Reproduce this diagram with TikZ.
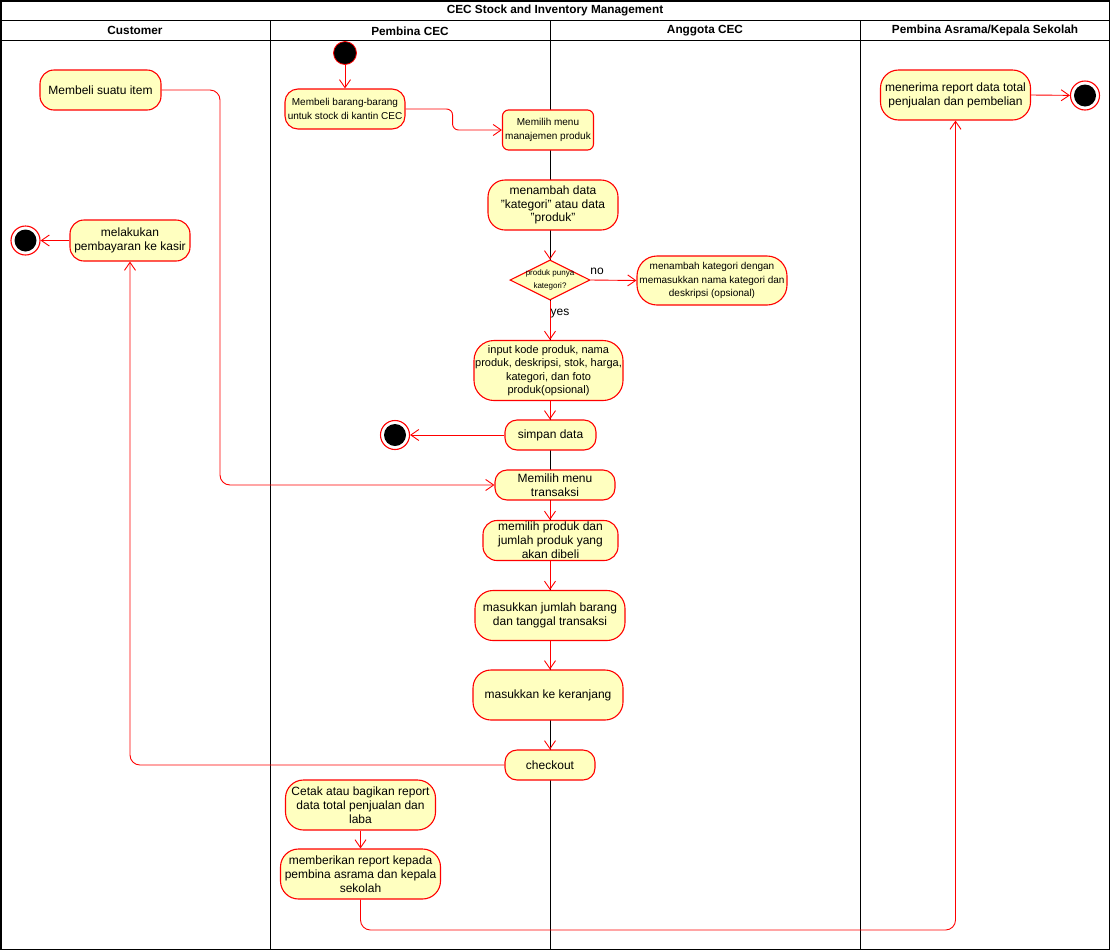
\documentclass[tikz,border=0pt]{standalone}
\usepackage{fontspec}
\setmainfont{Liberation Sans}
\usetikzlibrary{arrows.meta,shapes.geometric,calc}
\definecolor{boxfill}{RGB}{255,255,192}
\definecolor{umlred}{RGB}{255,0,0}
\begin{document}
\begin{tikzpicture}[x=1pt,y=-1pt,
  act/.style={draw=umlred, fill=boxfill, line width=1.1pt, rounded corners=14pt,
    inner sep=0pt, align=center, text=black, font=\fontsize{12}{13.8}\selectfont},
  smalltxt/.style={font=\fontsize{10}{14}\selectfont},
  midtxt/.style={font=\fontsize{11}{13.4}\selectfont},
  conn/.style={draw=umlred, line width=0.9pt, -{Straight Barb[length=8pt,width=11pt,line width=0.9pt]}},
  blackconn/.style={draw=black, line width=0.9pt, -{Straight Barb[length=8pt,width=11pt,line width=0.9pt,color=umlred]}},
  startstate/.style={circle, draw=umlred, fill=black, line width=0.8pt, minimum size=23pt, inner sep=0pt},
  endstate/.style={circle, draw=umlred, fill=white, line width=1.1pt, minimum size=29pt, inner sep=0pt},
  lanehead/.style={font=\bfseries\fontsize{11.8}{12}\selectfont},
  guard/.style={font=\fontsize{12}{13}\selectfont, inner sep=0pt}
]
\useasboundingbox (0,0) rectangle (1111,951);

% frame and lanes
\draw[line width=1.2pt] (1,1) rectangle (1109.5,949.5);
\draw[line width=1pt] (1,20.5) -- (1109.5,20.5);
\draw[line width=1pt] (1,40.5) -- (1109.5,40.5);
\draw[line width=1pt] (270.5,20.5) -- (270.5,949.5);
\draw[line width=1pt] (550.5,20.5) -- (550.5,949.5);
\draw[line width=1pt] (860.5,20.5) -- (860.5,949.5);

\node[lanehead] (title) at (555,10.8) {CEC Stock and Inventory Management};
\node[lanehead] (h1) at (135,30.8) {Customer};
\node[lanehead] (h2) at (410,30.8) {Pembina CEC};
\node[lanehead] (h3) at (705,30.8) {Anggota CEC};
\node[lanehead] (h4) at (985,30.8) {Pembina Asrama/Kepala Sekolah};

% Customer lane
\node[act, minimum width=121pt, minimum height=40pt] (buy) at (100.5,90) {Membeli suatu item};
\node[act, minimum width=120pt, minimum height=41pt] (pay) at (130,240.5) {melakukan\\pembayaran ke kasir};
\node[endstate] (endC) at (25.5,240.5) {};
\fill[black] (endC.center) circle (11pt);

% Pembina CEC lane
\node[startstate] (start) at (345,53) {};
\node[act, smalltxt, rounded corners=13pt, minimum width=120pt, minimum height=40pt] (stock) at (345,109) {Membeli barang-barang\\untuk stock di kantin CEC};
\node[endstate] (endS) at (395,435) {};
\fill[black] (endS.center) circle (11pt);
\node[act, minimum width=150pt, minimum height=50pt, rounded corners=18pt] (print) at (360.5,805) {Cetak atau bagikan report\\data total penjualan dan\\laba};
\node[act, minimum width=160pt, minimum height=50pt, rounded corners=18pt] (give) at (360.5,874) {memberikan report kepada\\pembina asrama dan kepala\\sekolah};

% Anggota CEC lane (boxes centred on the lane line)
\node[act, smalltxt, rounded corners=6pt, minimum width=91pt, minimum height=40pt] (manaj) at (548,130) {Memilih menu\\manajemen produk};
\node[act, minimum width=130pt, minimum height=50pt, rounded corners=17pt] (addData) at (553,205) {menambah data\\"kategori" atau data\\"produk"};
\node[diamond, draw=umlred, fill=boxfill, line width=1.1pt, minimum width=80pt, minimum height=40pt, inner sep=0pt] (dec) at (550,280) {};
\node[font=\fontsize{8}{12.3}\selectfont, align=center, inner sep=0pt] (dectxt) at (dec.center) {produk punya\\kategori?};
\node[act, smalltxt, minimum width=150pt, minimum height=49pt, rounded corners=20pt, font=\fontsize{10}{13.3}\selectfont] (addKat) at (712,280.5) {menambah kategori dengan\\memasukkan nama kategori dan\\deskripsi (opsional)};
\node[act, midtxt, minimum width=149pt, minimum height=60pt, rounded corners=20pt] (input) at (548.5,370.5) {input kode produk, nama\\produk, deskripsi, stok, harga,\\kategori, dan foto\\produk(opsional)};
\node[act, minimum width=91pt, minimum height=30pt, rounded corners=12pt] (save) at (550.5,435) {simpan data};
\node[act, minimum width=120pt, minimum height=30pt, rounded corners=12pt] (menuT) at (555,485) {Memilih menu\\transaksi};
\node[act, minimum width=135pt, minimum height=40pt, rounded corners=14pt] (pick) at (550.5,540.5) {memilih produk dan\\jumlah produk yang\\akan dibeli};
\node[act, minimum width=150pt, minimum height=50pt, rounded corners=18pt] (qty) at (550,615.5) {masukkan jumlah barang\\dan tanggal transaksi};
\node[act, minimum width=150pt, minimum height=50pt, rounded corners=18pt] (cart) at (548,695) {masukkan ke keranjang};
\node[act, minimum width=90pt, minimum height=30pt, rounded corners=12pt] (co) at (550,765) {checkout};

% Pembina Asrama lane
\node[act, minimum width=150pt, minimum height=50pt, rounded corners=18pt] (recv) at (955.5,95) {menerima report data total\\penjualan dan pembelian};
\node[endstate] (endR) at (1085,95.5) {};
\fill[black] (endR.center) circle (11pt);

% connector bend points
\coordinate (b1) at (220,485);
\coordinate (g1) at (955.5,930);

% connectors
\draw[conn] (start) -- (stock.north);
\draw[conn, rounded corners=6pt] (stock.east) -- ++(47,0) |- (manaj.west);
\draw[conn, rounded corners=10pt] (buy.east) -| (b1) -- (menuT.west);
\draw[blackconn] (dec.north |- addData.south) -- (dec.north);
\draw[conn] (dec.east) -- (addKat.west);
\node[guard] (no) at (597,271) {no};
\draw[conn] (dec.south) -- (dec.south |- input.north);
\node[guard] (yes) at (560,313.5) {yes};
\draw[conn] (dec.south |- input.south) -- (dec.south |- save.north);
\draw[conn] (save.west) -- (endS);
\draw[conn] (dec.south |- menuT.south) -- (dec.south |- pick.north);
\draw[conn] (dec.south |- pick.south) -- (dec.south |- qty.north);
\draw[conn] (dec.south |- qty.south) -- (dec.south |- cart.north);
\draw[blackconn] (dec.south |- cart.south) -- (dec.south |- co.north);
\draw[conn, rounded corners=10pt] (co.west) -| (pay.south);
\draw[conn] (pay.west) -- (endC);
\draw[conn] (print.south) -- (give.north);
\draw[conn, rounded corners=10pt] (give.south) |- (g1) -- (recv.south);
\draw[conn] (recv.east) -- (endR);
\end{tikzpicture}
\end{document}
